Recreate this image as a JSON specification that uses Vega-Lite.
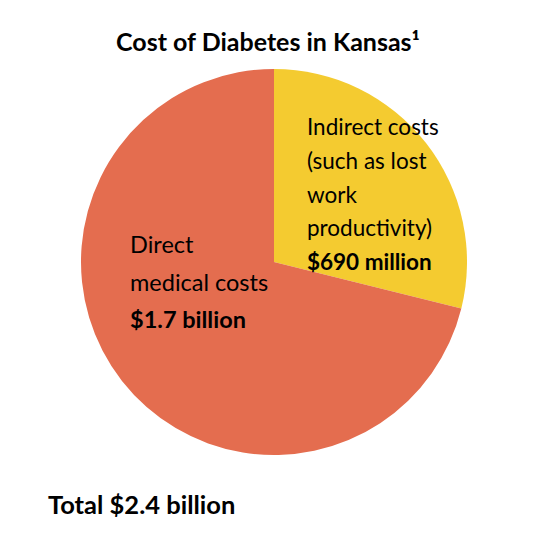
{
  "$schema": "https://vega.github.io/schema/vega-lite/v6.json",
  "padding": 0,
  "background": "white",
  "title": {
    "text": "Cost of Diabetes in Kansas¹",
    "orient": "top",
    "anchor": "middle",
    "frame": "bounds",
    "dx": -6,
    "offset": -76,
    "baseline": "alphabetic",
    "font": "Lato",
    "fontSize": 25,
    "fontWeight": "bold",
    "color": "#000000"
  },
  "vconcat": [
    {
      "width": 548,
      "height": 524,
      "title": {
        "text": "Total $2.4 billion",
        "orient": "bottom",
        "anchor": "start",
        "frame": "group",
        "dx": 48,
        "offset": -10,
        "baseline": "alphabetic",
        "font": "Lato",
        "fontSize": 25.5,
        "fontWeight": "bold",
        "color": "#000000"
      },
      "data": {
        "values": [
          {"category": "Indirect costs", "value": 690, "order": 1, "label": ["Indirect costs", "(such as lost", "work", "productivity)"], "amount": "$690 million"},
          {"category": "Direct medical costs", "value": 1700, "order": 2, "label": ["Direct", "medical costs"], "amount": "$1.7 billion"}
        ]
      },
      "encoding": {
        "theta": {"field": "value", "type": "quantitative", "stack": true},
        "order": {"field": "order", "type": "quantitative"},
        "detail": {"field": "category", "type": "nominal"}
      },
      "layer": [
        {
          "mark": {"type": "arc", "radius": 193},
          "encoding": {
            "color": {
              "field": "category",
              "type": "nominal",
              "scale": {"domain": ["Indirect costs", "Direct medical costs"], "range": ["#F4CB30", "#E46D4F"]},
              "legend": null
            }
          }
        },
        {
          "mark": {"type": "text", "radius": 100, "align": "left", "baseline": "alphabetic", "dx": -45.8, "dy": -65.4, "lineHeight": 33.8, "font": "Lato", "fontSize": 22.5, "color": "#000000"},
          "encoding": {
            "text": {"field": "label", "type": "nominal"},
            "opacity": {"condition": {"test": "datum.category === 'Indirect costs'", "value": 1}, "value": 0}
          }
        },
        {
          "mark": {"type": "text", "radius": 100, "align": "left", "baseline": "alphabetic", "dx": -45.8, "dy": 69.6, "font": "Lato", "fontSize": 22.5, "fontWeight": "bold", "color": "#000000"},
          "encoding": {
            "text": {"field": "amount", "type": "nominal"},
            "opacity": {"condition": {"test": "datum.category === 'Indirect costs'", "value": 1}, "value": 0}
          }
        },
        {
          "mark": {"type": "text", "radius": 100, "align": "left", "baseline": "alphabetic", "dx": -65.2, "dy": -70.3, "lineHeight": 37.7, "font": "Lato", "fontSize": 23.5, "color": "#000000"},
          "encoding": {
            "text": {"field": "label", "type": "nominal"},
            "opacity": {"condition": {"test": "datum.category === 'Direct medical costs'", "value": 1}, "value": 0}
          }
        },
        {
          "mark": {"type": "text", "radius": 100, "align": "left", "baseline": "alphabetic", "dx": -65.2, "dy": 4.7, "font": "Lato", "fontSize": 23.5, "fontWeight": "bold", "color": "#000000"},
          "encoding": {
            "text": {"field": "amount", "type": "nominal"},
            "opacity": {"condition": {"test": "datum.category === 'Direct medical costs'", "value": 1}, "value": 0}
          }
        }
      ]
    }
  ],
  "config": {"view": {"stroke": null}, "concat": {"spacing": 0}}
}
